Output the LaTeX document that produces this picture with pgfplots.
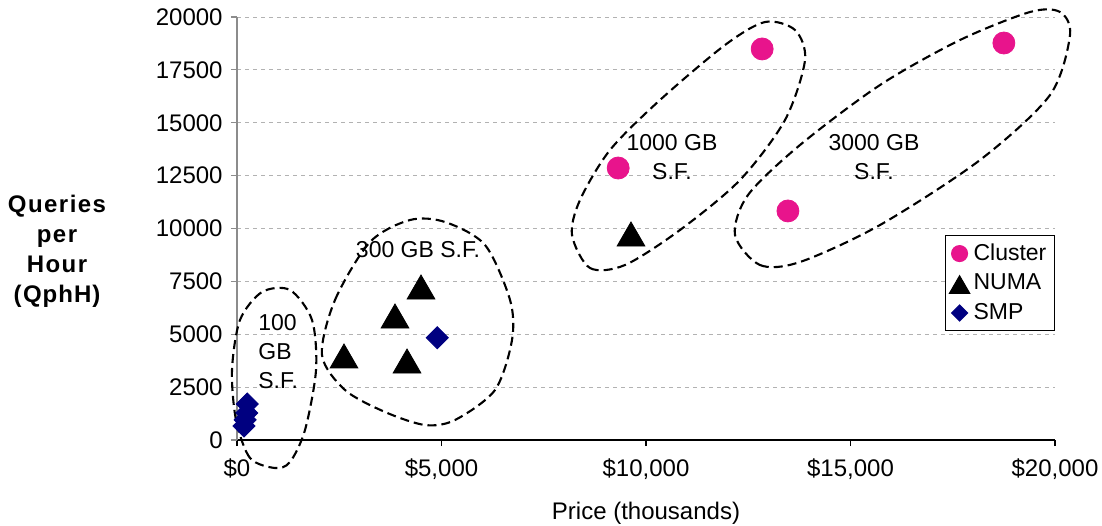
\documentclass[border=0pt]{standalone}
\usepackage{fontspec}
\setmainfont{Liberation Sans}
\usepackage{pgfplots}
\pgfplotsset{compat=1.18}
\definecolor{clus}{RGB}{232,20,140}
\definecolor{smp}{RGB}{0,0,128}
\begin{document}
\fontsize{12}{14}\selectfont
\begin{tikzpicture}
\begin{axis}[
 scale only axis, width=409pt, height=211.5pt,
 xmin=0,xmax=20000,ymin=0,ymax=20000,
 clip=false, scaled ticks=false,
 axis x line*=bottom, axis y line*=left,
 x axis line style={-,black,line width=0.7pt},
 y axis line style={-,gray!90,line width=0.7pt},
 xtick={0,5000,10000,15000,20000},
 xticklabels={{\$0},{\$5,000},{\$10,000},{\$15,000},{\$20,000}},
 ytick={0,2500,5000,7500,10000,12500,15000,17500,20000},
 yticklabels={0,2500,5000,7500,10000,12500,15000,17500,20000},
 ymajorgrids, major grid style={gray!60, dash pattern=on 2pt off 2pt, line width=0.5pt},
 tick align=outside, major tick length=3pt,
 xtick style={black,line width=0.6pt}, ytick style={gray!90,line width=0.6pt},
 ticklabel style={font=\fontsize{12}{14}\selectfont},
 xticklabel style={yshift=-2pt},
 xlabel={Price (thousands)},
 xlabel style={font=\fontsize{12}{14}\selectfont, yshift=-3pt},
 legend style={at={(rel axis cs:1,0.485)},anchor=north east, draw=black, fill=white,
   font=\fontsize{11.5}{13}\selectfont, row sep=1pt, inner sep=2pt, line width=0.6pt},
 legend cell align=left,
 legend image code/.code={\draw[every mark/.append style={scale=0.72}] plot coordinates {(0.15cm,0cm)};},
]
\addplot[only marks, mark=*, mark size=5.5pt, mark options={fill=clus, draw=clus}]
 coordinates {(9320,12860) (12840,18490) (13470,10830) (18750,18770)};
\addlegendentry{Cluster}
\addplot[only marks, mark=triangle*, mark size=8pt, mark options={fill=black, draw=black, yshift=-2pt}]
 coordinates {(9633,9740) (4499,7234) (3863,5863) (2616,3972) (4157,3735)};
\addlegendentry{NUMA}
\addplot[only marks, mark=square*, mark size=3.9pt, mark options={fill=smp, draw=smp, rotate=45}]
 coordinates {(4897,4837) (250,1700) (240,1280) (200,950) (170,660)};
\addlegendentry{SMP}

\tikzset{ell/.style={black, dash pattern=on 4.5pt off 2.5pt, line width=1.05pt}}
\draw[ell] plot[smooth cycle] coordinates {(929,-1324) (318,-851) (-24,946) (-122,3310) (73,5674) (611,6997) (1296,7092) (1834,5674) (1932,3310) (1663,473) (1296,-1040)};
\draw[ell] plot[smooth cycle] coordinates {(2078,4019) (2396,6619) (3252,9361) (4230,10402) (5086,10307) (6064,9220) (6676,6619) (6724,4728) (6308,2364) (5330,946) (4597,709) (3619,1324) (2641,2364)};
\draw[ell] plot[smooth cycle] coordinates {(8191,9692) (8631,8132) (9487,8274) (10831,9929) (12298,12293) (13399,15130) (13888,17966) (13643,19385) (12910,19763) (11932,18676) (10342,16075) (9120,13711) (8386,11347)};
\draw[ell] plot[smooth cycle] coordinates {(12176,9692) (12787,8274) (13765,8416) (15721,10165) (18166,13238) (19878,16312) (20367,19148) (20122,20236) (19389,20236) (17677,18912) (15721,16784) (13765,13948) (12494,11584)};

\node[align=center, font=\fontsize{11.5}{14.5}\selectfont] at (axis cs:10636,13380) {1000 GB\\S.F.};
\node[align=center, font=\fontsize{11.5}{14.5}\selectfont] at (axis cs:15575,13380) {3000 GB\\S.F.};
\node[align=center, font=\fontsize{11.5}{14.5}\selectfont] at (axis cs:4425,8983) {300 GB S.F.};
\node[align=left, anchor=west, inner sep=0pt, font=\fontsize{11.5}{14.5}\selectfont] at (axis cs:513,4160) {100\\GB\\S.F.};
\end{axis}
\node[align=center, font=\fontsize{12}{15}\selectfont\bfseries\addfontfeature{LetterSpace=6}] at (-90pt,94.5pt) {Queries\\per\\Hour\\(Q\kern0.5pt p\kern0.5pt h\kern0.5pt H\kern0.5pt)};
\pgfresetboundingbox
\path[use as bounding box] (-118.5pt,-42.5pt) rectangle (432.5pt,220pt);
\end{tikzpicture}
\end{document}
